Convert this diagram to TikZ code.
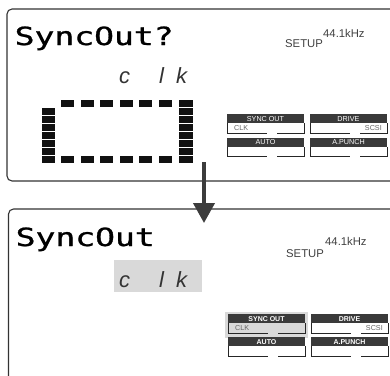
\documentclass[tikz,border=0pt]{standalone}
\usepackage{fontspec}
\setmainfont{Liberation Sans}
\newfontfamily\lcdfont[FakeBold=0.9]{DejaVu Sans Mono}
\newfontfamily\segfont{Liberation Sans}
\usetikzlibrary{arrows.meta}
\definecolor{panelc}{HTML}{333333}
\definecolor{hdrc}{HTML}{3A3A3A}
\definecolor{hilite}{HTML}{D9D9D9}
\definecolor{blockc}{HTML}{111111}
\definecolor{arrc}{HTML}{3C3C3C}
\tikzset{
  panel/.style={draw=panelc, line width=1.1bp, rounded corners=5bp},
  lcd/.style={inner sep=0pt, anchor=base west, font=\lcdfont\fontsize{25bp}{28bp}\selectfont},
  seg/.style={inner sep=0pt, anchor=base west, text=black!80, font=\segfont\itshape\fontsize{22bp}{24bp}\selectfont},
  small/.style={inner sep=0pt, anchor=base west, text=black!75, font=\fontsize{11.3bp}{13bp}\selectfont},
  hdrtext/.style={inner sep=0pt, text=white, font=\fontsize{7.2bp}{8bp}\selectfont},
  hdrtextb/.style={inner sep=0pt, text=white, font=\bfseries\fontsize{7bp}{8bp}\selectfont},
  lowtext/.style={inner sep=0pt, text=black!60, font=\fontsize{7.2bp}{8bp}\selectfont},
  btnline/.style={draw=black!85, line width=0.9bp},
  block/.style={fill=blockc},
  arr/.style={draw=arrc, line width=4bp, -{Triangle[length=20bp,width=21bp]}}
}
% #1 name, #2 x, #3 y, #4 header, #5 header style, #6 left text, #7 right text, #8 lower fill
\newcommand\lcdbtn[8]{%
  \fill[#8] (#2,#3+9) rectangle (#2+77,#3+19);
  \fill[hdrc] (#2,#3) rectangle (#2+77,#3+9);
  \node[#5] (#1h) at (#2+38.5,#3+4.6) {#4};
  \draw[btnline] (#2,#3+9) -- (#2,#3+19) -- (#2+40,#3+19) (#2+50,#3+19) -- (#2+77,#3+19) -- (#2+77,#3+9);
  \node[lowtext, anchor=west] (#1l) at (#2+7,#3+13.6) {#6};
  \node[lowtext, anchor=east] (#1r) at (#2+72,#3+13.6) {#7};
}
\begin{document}
\begin{tikzpicture}[x=1bp,y=-1bp]
\useasboundingbox (0,0) rectangle (390,376);
\clip (0,0) rectangle (390,376);
\fill[white] (0,0) rectangle (390,376);

% ---------- top panel ----------
\draw[panel] (7,9) rectangle (420,181);
\node[lcd] (title1) at (14.5,45) {\scalebox{1.32}[1]{SyncOut?}};
\node[seg] (c1) at (119,83) {c};
\node[seg] (l1) at (159,83) {l};
\node[seg] (k1) at (176,83) {k};
\node[small] (setup1) at (285,47) {SETUP};
\node[small] (khz1) at (323,37) {44.1kHz};

% dashed box
\foreach \i in {0,...,7} \fill[block] (179,100+8*\i) rectangle (193,107+8*\i);
\foreach \i in {0,...,6} \fill[block] (42,108+8*\i) rectangle (55,115+8*\i);
\foreach \i in {0,...,5} {
  \fill[block] (61+19.6*\i,100) rectangle (74+19.6*\i,107);
  \fill[block] (61+19.6*\i,156) rectangle (74+19.6*\i,163);
}

\lcdbtn{so1}{227}{114}{SYNC OUT}{hdrtext}{CLK}{}{white}
\lcdbtn{dr1}{310}{114}{DRIVE}{hdrtext}{}{SCSI}{white}
\lcdbtn{au1}{227}{137.5}{AUTO}{hdrtext}{}{}{white}
\lcdbtn{ap1}{310}{137.5}{A.PUNCH}{hdrtext}{}{}{white}

% ---------- bottom panel ----------
\draw[panel] (8.5,209) rectangle (420,400);
\fill[hilite] (114,260) rectangle (202,292);
\fill[hilite] (225,312) rectangle (308,338);
\node[lcd] (title2) at (15.5,246) {\scalebox{1.32}[1]{SyncOut}};
\node[seg] (c2) at (119,287) {c};
\node[seg] (l2) at (159,287) {l};
\node[seg] (k2) at (176,287) {k};
\node[small] (setup2) at (286,257) {SETUP};
\node[small] (khz2) at (325,245) {44.1kHz};

\lcdbtn{so2}{228}{314}{SYNC OUT}{hdrtextb}{CLK}{}{hilite}
\lcdbtn{dr2}{311}{314}{DRIVE}{hdrtextb}{}{SCSI}{white}
\lcdbtn{au2}{228}{337}{AUTO}{hdrtextb}{}{}{white}
\lcdbtn{ap2}{311}{337}{A.PUNCH}{hdrtextb}{}{}{white}

% ---------- arrow ----------
\coordinate (astart) at (204,162);
\coordinate (aend) at (204,223);
\draw[arr] (astart) -- (aend);
\end{tikzpicture}
\end{document}
